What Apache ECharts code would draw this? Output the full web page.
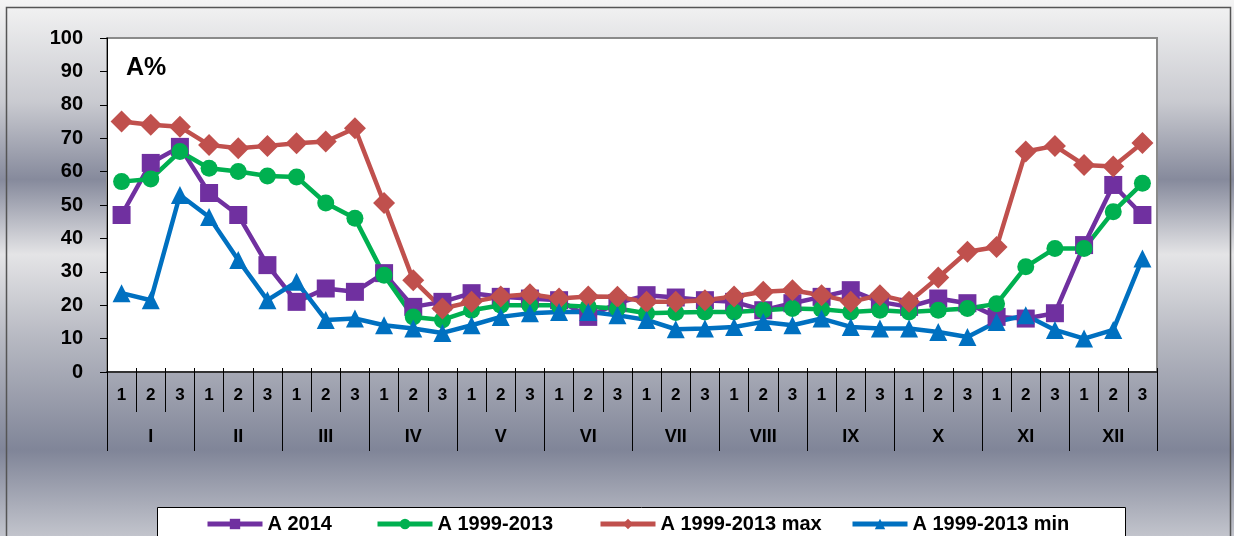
<!DOCTYPE html>
<html>
<head>
<meta charset="utf-8">
<script src="https://cdn.jsdelivr.net/npm/echarts@6/dist/echarts.min.js"></script>
<style>
  html, body { margin: 0; padding: 0; }
  #main { width: 1234px; height: 536px; }
</style>
</head>
<body>
<div id="main"></div>
<script>
var months = ['I', 'II', 'III', 'IV', 'V', 'VI', 'VII', 'VIII', 'IX', 'X', 'XI', 'XII'];
var decades = ['1', '2', '3'];

var a2014 = [47, 62.6, 67.4, 53.6, 47, 32, 21, 25, 24, 29.6, 19.5, 21,
  23.6, 22.5, 22, 21.5, 16.5, 20.6, 23, 22.3, 21.5, 21, 18.5, 20.6,
  22.5, 24.5, 21, 19.5, 22, 20.6, 16.5, 16, 17.6, 38, 56, 47];
var aAvg = [57, 57.8, 66, 61, 60, 58.7, 58.4, 50.6, 46, 29, 16.5, 15.6,
  18.5, 20, 20, 20, 19.5, 19, 17.6, 17.8, 18, 18, 18.5, 19,
  18.8, 18, 18.5, 18, 18.5, 19, 20.4, 31.5, 37, 37, 48, 56.5];
var aMax = [75, 74, 73.4, 68, 67, 67.7, 68.5, 69, 73, 50.6, 27.5, 19,
  21, 22.6, 23.3, 22, 22.6, 22.5, 21, 21, 21.5, 22.6, 24, 24.5,
  23, 21, 23, 21, 28.3, 36, 37.4, 66, 67.7, 62, 61.5, 68.6];
var aMin = [23.6, 21.5, 53, 46.4, 33.5, 21.5, 27, 15.6, 16, 14, 13, 11.7,
  14, 16.5, 17.6, 18, 18, 17, 15.6, 12.8, 13, 13.5, 15, 14,
  16, 13.5, 13, 13, 12, 10.5, 15, 17, 12.6, 10, 12.6, 34];

var seriesNames = ['A 2014', 'A 1999-2013', 'A 1999-2013 max', 'A 1999-2013 min'];
var seriesColors = ['#7030A0', '#00B050', '#C0504D', '#0070C0'];
var seriesSymbols = ['rect', 'circle', 'diamond', 'triangle'];
var seriesSizes = [18, 17, 22, 18];
var seriesData = [a2014, aAvg, aMax, aMin];

// 36 ten-day periods: 1,2,3 for every month
var periods = [];
months.forEach(function () {
  decades.forEach(function (d) { periods.push(d); });
});

var font = 'Liberation Sans, Arial, sans-serif';
var legendLeft = [200, 370, 593, 845];

var myChart = echarts.init(document.getElementById('main'));

var option = {
  animation: false,
  backgroundColor: {
    type: 'linear', x: 0, y: 0, x2: 0, y2: 1,
    colorStops: [
      { offset: 0, color: '#f4f4f4' },
      { offset: 0.19, color: '#c9cad0' },
      { offset: 0.335, color: '#868a9c' },
      { offset: 0.475, color: '#e4e4e6' },
      { offset: 0.63, color: '#b7b9c2' },
      { offset: 0.84, color: '#808598' },
      { offset: 1, color: '#c2c4cc' }
    ]
  },
  graphic: [{
    type: 'rect',
    z: 0,
    shape: { x: 6.5, y: 7.5, width: 1224, height: 560 },
    style: { fill: null, stroke: '#555', lineWidth: 1.5 }
  }, {
    type: 'rect',
    z: 1,
    shape: { x: 157.5, y: 507.5, width: 968, height: 40 },
    style: { fill: '#fff', stroke: '#000', lineWidth: 1 }
  }, {
    type: 'text',
    z: 10,
    left: 126,
    top: 56,
    style: { text: 'A%', font: 'bold 25px ' + font, fill: '#000' }
  }],
  legend: seriesNames.map(function (name, i) {
    return {
      data: [name],
      left: legendLeft[i],
      top: 509,
      itemWidth: 55,
      itemHeight: 13,
      itemGap: 0,
      lineStyle: { width: 5 },
      textStyle: { fontFamily: font, fontWeight: 'bold', fontSize: 20, color: '#000' }
    };
  }),
  grid: {
    left: 107, right: 77, top: 38, bottom: 164,
    show: true,
    backgroundColor: '#fff',
    borderColor: '#8a8a8a',
    borderWidth: 2
  },
  xAxis: [{
    type: 'category',
    data: periods,
    position: 'bottom',
    axisLine: { show: true, lineStyle: { color: '#333', width: 2 } },
    axisTick: { show: true, interval: 0, length: 40, lineStyle: { color: '#000' } },
    axisLabel: {
      interval: 0, margin: 15,
      fontFamily: font, fontWeight: 'bold', fontSize: 17, color: '#000'
    },
    splitLine: { show: false }
  }, {
    type: 'category',
    data: months,
    position: 'bottom',
    axisLine: { show: false },
    axisTick: { show: true, interval: 0, length: 79, lineStyle: { color: '#000' } },
    axisLabel: {
      interval: 0, margin: 56,
      fontFamily: font, fontWeight: 'bold', fontSize: 18, color: '#000'
    },
    splitLine: { show: false }
  }, {
    type: 'category',
    data: periods,
    position: 'bottom',
    axisLine: { show: false },
    axisTick: { show: true, inside: true, interval: 0, length: 4, lineStyle: { color: '#000' } },
    axisLabel: { show: false },
    splitLine: { show: false }
  }],
  yAxis: {
    type: 'value',
    min: 0,
    max: 100,
    interval: 10,
    axisLine: { show: true, lineStyle: { color: '#000' } },
    axisTick: { show: true, length: 7, lineStyle: { color: '#000' } },
    axisLabel: {
      margin: 24,
      fontFamily: font, fontWeight: 'bold', fontSize: 20, color: '#000'
    },
    splitLine: { show: false }
  },
  series: seriesNames.map(function (name, i) {
    return {
      name: name,
      type: 'line',
      data: seriesData[i],
      symbol: seriesSymbols[i],
      symbolSize: seriesSizes[i],
      lineStyle: { color: seriesColors[i], width: 4.5 },
      itemStyle: { color: seriesColors[i] }
    };
  })
};

myChart.setOption(option);
</script>
</body>
</html>
